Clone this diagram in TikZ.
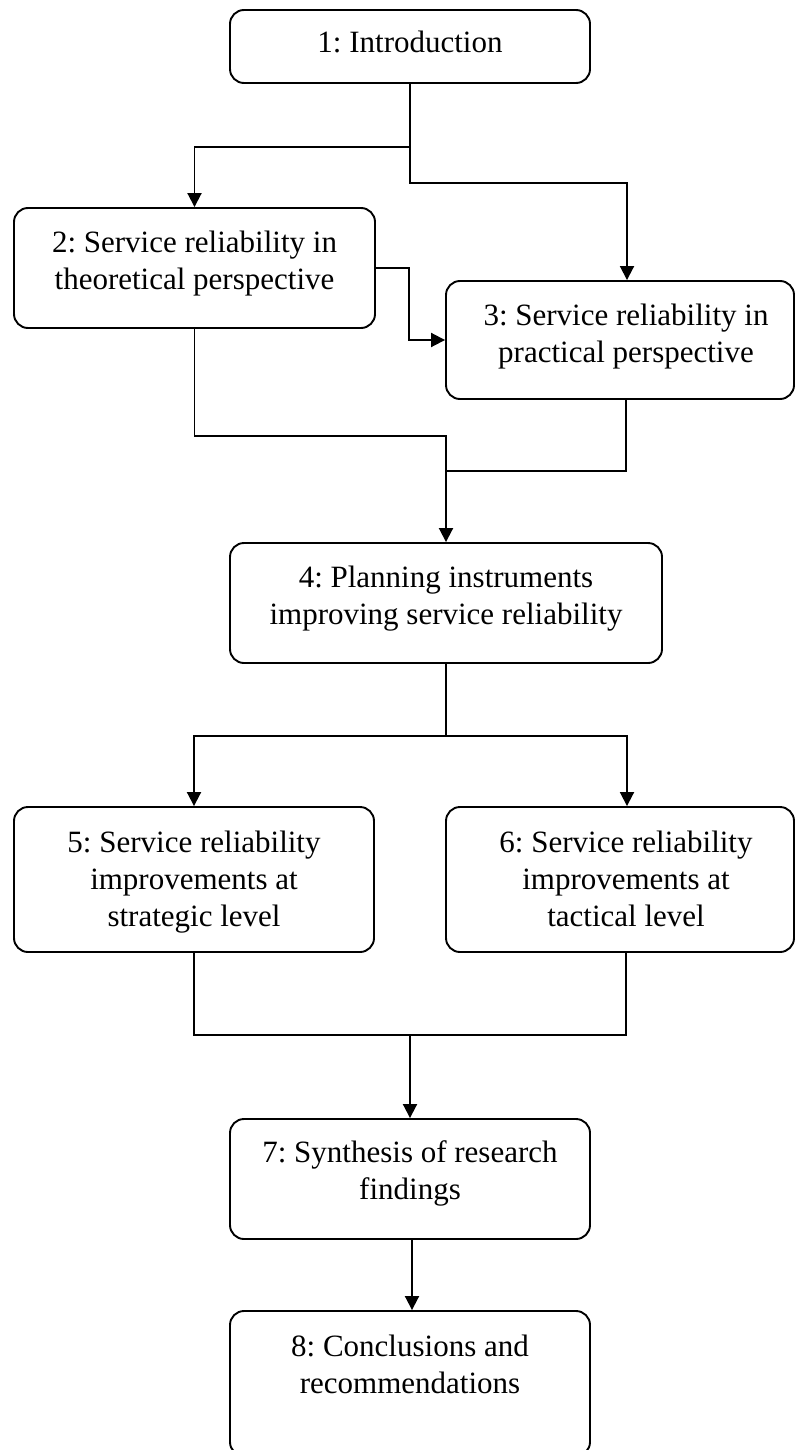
\documentclass[tikz,border=0pt]{standalone}
\usepackage{fontspec}
\setmainfont{Liberation Serif}
\usetikzlibrary{arrows.meta}
\frenchspacing
\begin{document}
\begin{tikzpicture}[x=1pt,y=-1pt,
  box/.style={draw, line width=1.9pt, rounded corners=14pt, inner sep=0pt},
  % text height = first-line ascent + 37pt for every further line
  boxtext/.style={anchor=north, align=center, inner sep=0pt, text height=24pt,
    font=\fontsize{31}{37}\selectfont},
  twolines/.style={text height=61pt},
  threelines/.style={text height=98pt},
  link/.style={line width=1.9pt},
  arrowlink/.style={link, -{Triangle[length=14pt,width=14pt]}}
]
\useasboundingbox (0,0) rectangle (795,1450);
\clip (0,0) rectangle (795,1450);

% chapter boxes
\node[box, minimum width=360pt, minimum height=73pt]  (b1) at (410,46.5) {};
\node[box, minimum width=361pt, minimum height=120pt] (b2) at (194.5,268) {};
\node[box, minimum width=348pt, minimum height=118pt] (b3) at (620,340) {};
\node[box, minimum width=432pt, minimum height=120pt] (b4) at (446,603) {};
\node[box, minimum width=360pt, minimum height=145pt] (b5) at (194,879.5) {};
\node[box, minimum width=348pt, minimum height=145pt] (b6) at (620,879.5) {};
\node[box, minimum width=360pt, minimum height=120pt] (b7) at (410,1179) {};
\node[box, minimum width=360pt, minimum height=145pt] (b8) at (410,1383.5) {};

% chapter titles, hung a fixed distance below each box top
\node[boxtext] (t1) at ([yshift=-19pt]b1.north) {1: Introduction};
\node[boxtext, twolines] (t2) at ([yshift=-21pt]b2.north) {2: Service reliability in\\theoretical perspective};
\node[boxtext, twolines] (t3) at ([xshift=6pt,yshift=-21pt]b3.north) {3: Service reliability in\\practical perspective};
\node[boxtext, twolines] (t4) at ([yshift=-21pt]b4.north) {4: Planning instruments\\improving service reliability};
\node[boxtext, threelines] (t5) at ([yshift=-22pt]b5.north) {5: Service reliability\\improvements at\\strategic level};
\node[boxtext, threelines] (t6) at ([xshift=6pt,yshift=-22pt]b6.north) {6: Service reliability\\improvements at\\tactical level};
\node[boxtext, twolines] (t7) at ([yshift=-20pt]b7.north) {7: Synthesis of research\\findings};
\node[boxtext, twolines] (t8) at ([yshift=-22pt]b8.north) {8: Conclusions and\\recommendations};

% junction points
\coordinate (m24) at (446,436);
\coordinate (m34) at (446,471);
\coordinate (m56) at (410,1035);

% connectors
\draw[arrowlink] (b1.south) -- ++(0,63) -| (b2.north);
\draw[arrowlink] (b1.south) -- ++(0,99) -| ([xshift=7pt]b3.north);
\draw[arrowlink] (b2.east) -- ++(33,0) |- (b3.west);
\draw[arrowlink] (b2.south) |- (m24) -- (b4.north);
\draw[link] ([xshift=6pt]b3.south) |- (m34);
\draw[arrowlink] (b4.south) -- ++(0,72) -| (b5.north);
\draw[arrowlink] (b4.south) -- ++(0,72) -| ([xshift=7pt]b6.north);
\draw[link] (b5.south) |- (m56) -| ([xshift=6pt]b6.south);
\draw[arrowlink] (m56) -- (b7.north);
\draw[arrowlink] ([xshift=2pt]b7.south) -- ([xshift=2pt]b8.north);
\end{tikzpicture}
\end{document}
